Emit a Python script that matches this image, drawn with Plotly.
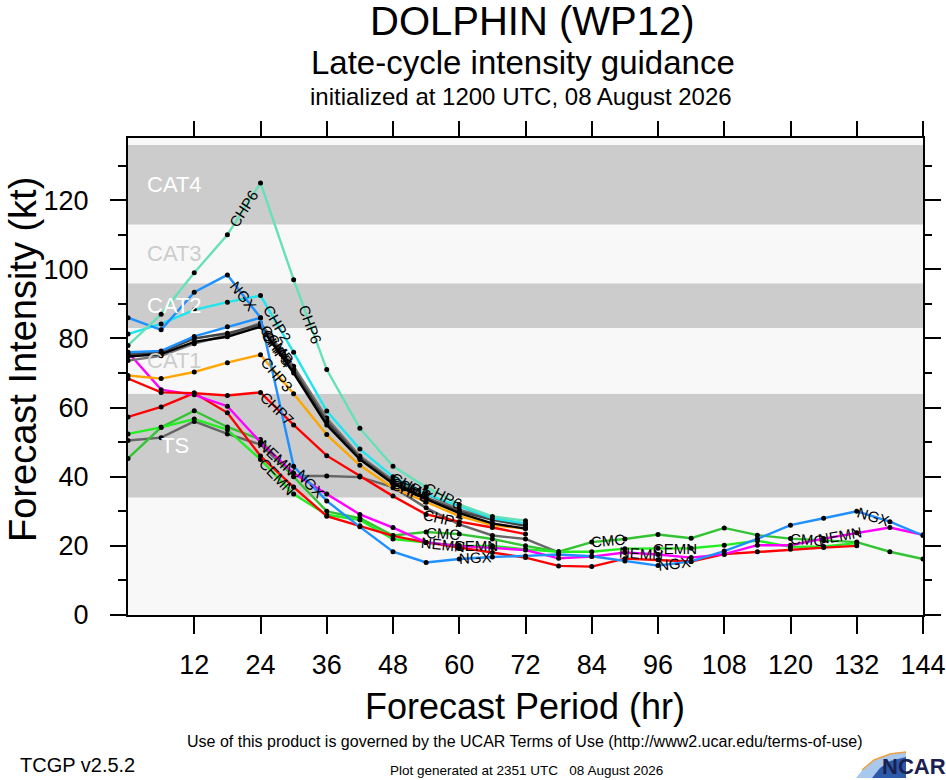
import math
import plotly.graph_objects as go

# forecast hours (every 6 h)
hours = list(range(0, 145, 6))

# intensity guidance (kt)
chp6 = [78, 87, 99, 110, 125, 97, 71, 54, 43, 37, 32, 28.5, 27.3]
ngx = [86, 82.5, 93.4, 98.4, 86, 43, 33, 25.5, 18.3, 15.2, 16.2, 16.8, 17.1,
       17.5, 17, 15.6, 14.3, 15.5, 18.5, 22, 26, 28, 30, 27, 23]
ngx_b = [76, 76.4, 80.6, 83.4, 86]
chp2 = [81.3, 84.2, 88.3, 90.5, 92.4, 76, 59, 48, 40, 35, 31.5, 28, 26.5]
chp4 = [74.8, 75.5, 79, 80.5, 83.4, 70, 55, 45, 38, 33.5, 29.5, 26.5, 25]
chp5 = [75.5, 76, 80, 81.5, 84, 71, 56, 45.5, 38.5, 34, 30, 27.5, 25.8]
ccmp = [73.6, 75, 78.5, 81, 84.5, 72, 57, 46, 39, 35, 30.5, 28, 26.3]
chp3 = [69.3, 68.4, 70.3, 73, 75.3, 64, 52.2, 43.3, 36.8, 32.6, 28.6, 26, 25]
chp7 = [68.4, 64.4, 64.2, 63.5, 64.4, 55, 46.1, 40.2, 34.4, 29.1, 27, 25.3, 23.4]
red_b = [57.3, 60.2, 64.2, 58.5, 46, 37, 28.6, 25.8, 22.9, 21, 19.5, 18.1, 16.6,
         14.2, 14, 16.3, 16, 15.5, 17.6, 18.3, 19, 19.5, 20]
nemn = [76, 65.2, 63.7, 60.4, 50, 41, 35, 29.1, 25.3, 21, 20, 19.5, 18.8,
        16.4, 16.9, 18.1, 17.5, 16.6, 17.6, 20.2, 20.2, 22.1, 23.8, 25.3, 23.2]
cmc = [45.3, 54.3, 59.1, 54.4, 50.8, 40, 30, 28, 23, 24, 23.4, 22, 20,
       18.3, 21.1, 22, 23.3, 22.2, 25.2, 23.1, 22.1, 21.5, 21.1, 18.3, 16.2]
cemn = [52.4, 54.3, 56.7, 53.6, 45, 35, 29, 27.5, 22, 21, 20, 20, 19,
        18.3, 18.3, 19.2, 19.3, 19.3, 20.2, 21.5, 19.7, 19.8, 20.8]
gray_b = [50.5, 51.3, 56, 52.4, 49.3, 40.2, 40.2, 39.9, 37, 31, 26.2, 23, 22, 18.1]

# intensity categories (kt)
cat_names = ["TS", "CAT1", "CAT2", "CAT3", "CAT4", "CAT5"]
cat_lo = [34, 64, 83, 96, 113, 136]
cat_hi = [64, 83, 96, 113, 136, 138]

xmax, ymax = 144, 138
W, H = 946, 780
ml, mr, mt, mb = 128, 23, 138, 165
pw, ph = W - ml - mr, H - mt - mb
kx, ky = pw / xmax, ph / ymax

# name, values, colour, segments carrying a label
series = [
    ("", gray_b, "#666666", []),
    ("CMC", cmc, "#33c433", [9, 14, 20]),
    ("CEMN", cemn, "#22ee22", [4, 10, 16]),
    ("", red_b, "#ff0000", []),
    ("NEMN", nemn, "#ff00ff", [4, 9, 15, 21]),
    ("CHP7", chp7, "#ff0000", [4, 9]),
    ("CHP3", chp3, "#ffa500", [4]),
    ("CCMP", ccmp, "#777777", [4, 8]),
    ("CHP5", chp5, "#444444", [4, 8]),
    ("CHP4", chp4, "#000000", [4, 8]),
    ("CHP2", chp2, "#1ee6f0", [4, 8]),
    ("", ngx_b, "#1e90ff", []),
    ("NGX", ngx, "#1e90ff", [3, 5, 10, 16, 22]),
    ("CHP6", chp6, "#66e0b8", [3, 5, 9]),
]

fig = go.Figure()

for name, vals, col, segs in series:
    fig.add_trace(go.Scatter(
        x=hours[:len(vals)], y=vals, mode="lines+markers",
        line=dict(color=col, width=2.4),
        marker=dict(color="black", size=5),
        showlegend=False, hoverinfo="skip"))

# labels written along the lines
for name, vals, col, segs in series:
    for s in segs:
        if s + 1 >= len(vals):
            continue
        x0, x1 = hours[s], hours[s + 1]
        y0, y1 = vals[s], vals[s + 1]
        ang = math.degrees(math.atan2(-(y1 - y0) * ky, (x1 - x0) * kx))
        fig.add_annotation(x=(x0 + x1) / 2, y=(y0 + y1) / 2, text=name,
                           textangle=ang, showarrow=False,
                           font=dict(size=15, color="black"))

# category bands
for i, c in enumerate(cat_names):
    band = "#cccccc" if i % 2 == 0 else "#f8f8f8"
    fig.add_shape(type="rect", xref="x", yref="y", x0=0, x1=xmax,
                  y0=cat_lo[i], y1=cat_hi[i], fillcolor=band,
                  line_width=0, layer="below")
    txt = "white" if i % 2 == 0 else "#cccccc"
    fig.add_annotation(x=8.5, y=(cat_lo[i] + cat_hi[i]) / 2 if i < 5 else 138.3,
                       text=c, showarrow=False,
                       font=dict(size=22, color=txt))

# empty trace so the top/right tick axes are drawn
fig.add_trace(go.Scatter(x=[None], y=[None], xaxis="x2", yaxis="y2",
                         showlegend=False))

tickfont = dict(family="Liberation Sans, Arial", size=27, color="black")
fig.update_layout(
    width=W, height=H,
    margin=dict(l=ml, r=mr, t=mt, b=mb),
    paper_bgcolor="white", plot_bgcolor="#f8f8f8",
    font=dict(family="Liberation Sans, Arial", color="black"),
    xaxis=dict(range=[0, xmax], tickvals=list(range(12, 145, 12)),
               ticks="outside", ticklen=17, tickwidth=2, tickcolor="black",
               showline=True, linewidth=2, linecolor="black", mirror=True,
               showgrid=False, zeroline=False, tickfont=tickfont,
               ticklabelstandoff=8, automargin=False),
    yaxis=dict(range=[0, ymax], dtick=20, ticks="outside", ticklen=16,
               tickwidth=2, tickcolor="black",
               minor=dict(dtick=10, ticks="outside", ticklen=8,
                          tickwidth=2, tickcolor="black"),
               showline=True, linewidth=2, linecolor="black", mirror=True,
               showgrid=False, zeroline=False, tickfont=tickfont,
               ticklabelstandoff=16, automargin=False),
    xaxis2=dict(range=[0, xmax], overlaying="x", side="top", anchor="y",
                tickvals=list(range(12, 145, 12)), showticklabels=False,
                ticks="outside", ticklen=16, tickwidth=2, tickcolor="black",
                showgrid=False, zeroline=False, showline=False,
                automargin=False),
    yaxis2=dict(range=[0, ymax], overlaying="y", side="right", anchor="x",
                dtick=20, showticklabels=False, ticks="outside", ticklen=17,
                tickwidth=2, tickcolor="black",
                minor=dict(dtick=10, ticks="outside", ticklen=8,
                           tickwidth=2, tickcolor="black"),
                showgrid=False, zeroline=False, showline=False,
                automargin=False),
)


def px(x):
    return (x - ml) / pw


def py(y):
    return (H - mb - y) / ph


def note(text, x, y, size, xanchor="center", angle=0, family=None, color="black"):
    f = dict(size=size, color=color)
    if family:
        f["family"] = family
    fig.add_annotation(xref="paper", yref="paper", x=px(x), y=py(y), text=text,
                       showarrow=False, xanchor=xanchor, yanchor="middle",
                       textangle=angle, font=f)


note("DOLPHIN (WP12)", 532, 21, 40)
note("Late-cycle intensity guidance", 523, 62, 33)
note("initialized at 1200 UTC, 08 August 2026", 521, 97, 24)
note("Forecast Intensity (kt)", 23, 360, 38, angle=-90)
note("Forecast Period (hr)", 525, 706, 36)
note("Use of this product is governed by the UCAR Terms of Use (http://www2.ucar.edu/terms-of-use)",
     525, 742, 16, family="Liberation Sans Narrow, Liberation Sans")
note("TCGP v2.5.2", 18, 765, 20, xanchor="left",
     family="Liberation Sans Narrow, Liberation Sans")
note("Plot generated at 2351 UTC   08 August 2026", 526, 770, 13.5,
     family="Liberation Sans Narrow, Liberation Sans")

# NCAR logo (swoosh + lettering)
def pth(pts):
    return "M " + " L ".join(f"{px(a)},{py(b)}" for a, b in pts) + " Z"


fig.add_shape(type="path", xref="paper", yref="paper",
              path=pth([(856, 778), (864, 768), (876, 759), (892, 753),
                        (906, 752), (906, 778)]),
              fillcolor="#a9c8ee", line_width=0)
fig.add_shape(type="path", xref="paper", yref="paper",
              path=pth([(872, 778), (880, 768), (890, 761), (906, 757),
                        (906, 778)]),
              fillcolor="#2a5aa8", line_width=0)
fig.add_shape(type="path", xref="paper", yref="paper",
              path="M " + " L ".join(f"{px(a)},{py(b)}" for a, b in
                                      [(862, 770), (874, 760), (890, 754), (906, 752)]),
              line=dict(color="#f0a040", width=1.5))
note("<b>NCAR</b>", 914, 766, 22, family="Liberation Sans Narrow, Liberation Sans",
     color="#1a2050")

fig.write_html("out.html", config={"displayModeBar": False},
               post_script="document.body.style.margin='0';")
